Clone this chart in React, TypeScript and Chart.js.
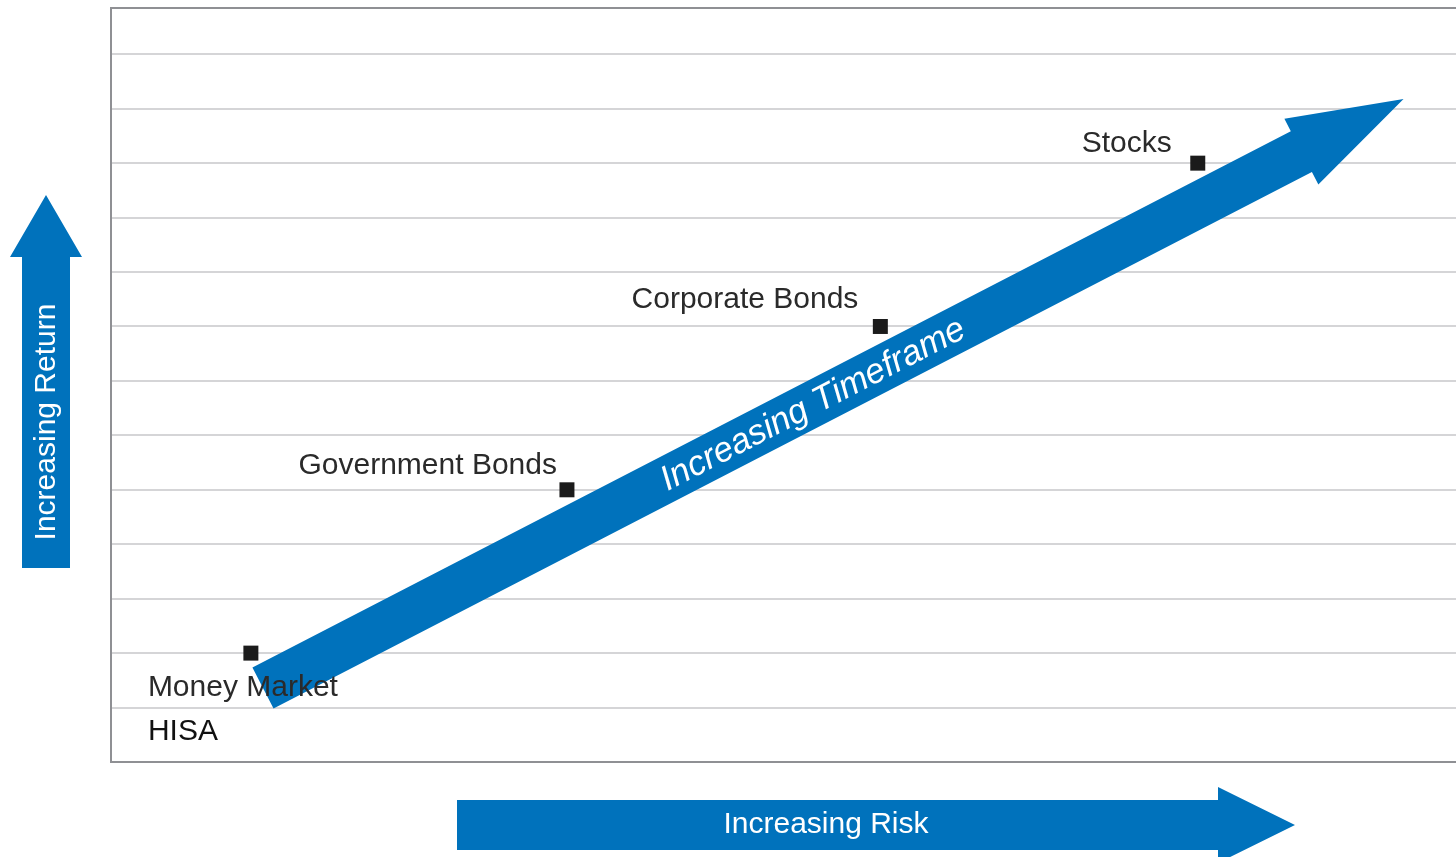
import React, { useEffect, useRef } from "react";
import { Chart, registerables } from "chart.js";

Chart.register(...registerables);

// ---- data ----
const categories = ["Money Market", "Government Bonds", "Corporate Bonds", "Stocks"];
const riskValues = [1.04, 3.39, 5.72, 8.08];
const returnValues = [2, 5, 8, 11];
const extraNote = "HISA";
const yAxisTitle = "Increasing Return";
const xAxisTitle = "Increasing Risk";
const trendTitle = "Increasing Timeframe";
const xRange = [0, 10];
const yRange = [0, 13.85];
const trendStart = [1.13, 1.36];
const trendEnd = [9.61, 12.18];

// ---- styling ----
const BLUE = "rgb(0,114,188)";
const FONT = "'Liberation Sans', Arial, sans-serif";
const labelOffsets: [number, number, CanvasTextAlign][] = [
  [-103, 43, "left"],
  [-10, -16, "right"],
  [-22, -18, "right"],
  [-26, -11, "right"],
];
const noteOffset: [number, number] = [-103, 87];

const overlayPlugin = {
  id: "overlay",
  beforeDatasetsDraw(chart: any) {
    const { ctx, chartArea: a, scales } = chart;
    const x = scales.x, y = scales.y;
    ctx.save();
    // frame
    ctx.strokeStyle = "#8f9094";
    ctx.lineWidth = 2;
    ctx.beginPath();
    ctx.moveTo(a.right + 20, a.top);
    ctx.lineTo(a.left, a.top);
    ctx.lineTo(a.left, a.bottom);
    ctx.lineTo(a.right + 20, a.bottom);
    ctx.stroke();

    // diagonal trend arrow
    const sx = x.getPixelForValue(trendStart[0]);
    const sy = y.getPixelForValue(trendStart[1]);
    const ex = x.getPixelForValue(trendEnd[0]);
    const ey = y.getPixelForValue(trendEnd[1]);
    const len = Math.hypot(ex - sx, ey - sy);
    ctx.translate(sx, sy);
    ctx.rotate(Math.atan2(ey - sy, ex - sx));
    const hw = 23, headW = 37, headL = 115;
    ctx.beginPath();
    ctx.moveTo(0, -hw);
    ctx.lineTo(len - headL, -hw);
    ctx.lineTo(len - headL, -headW);
    ctx.lineTo(len, 0);
    ctx.lineTo(len - headL, headW);
    ctx.lineTo(len - headL, hw);
    ctx.lineTo(0, hw);
    ctx.closePath();
    ctx.fillStyle = BLUE;
    ctx.fill();
    ctx.fillStyle = "#ffffff";
    ctx.font = "italic 35px " + FONT;
    ctx.textAlign = "center";
    ctx.textBaseline = "middle";
    ctx.fillText(trendTitle, len * 0.482, 1);
    ctx.restore();
  },
  afterDatasetsDraw(chart: any) {
    const { ctx, scales } = chart;
    const x = scales.x, y = scales.y;
    ctx.save();
    ctx.textBaseline = "alphabetic";
    ctx.font = "30px " + FONT;
    ctx.fillStyle = "#2a2a2a";
    categories.forEach((c, i) => {
      const px = x.getPixelForValue(riskValues[i]);
      const py = y.getPixelForValue(returnValues[i]);
      const [dx, dy, al] = labelOffsets[i];
      ctx.textAlign = al;
      ctx.fillText(c, px + dx, py + dy);
    });
    const mx = x.getPixelForValue(riskValues[0]);
    const my = y.getPixelForValue(returnValues[0]);
    ctx.fillStyle = "#111111";
    ctx.textAlign = "left";
    ctx.fillText(extraNote, mx + noteOffset[0], my + noteOffset[1]);
    ctx.restore();
  },
  afterDraw(chart: any) {
    const { ctx, chartArea: a } = chart;
    ctx.save();
    ctx.fillStyle = BLUE;
    // vertical axis arrow
    const vx = a.left - 65;
    ctx.beginPath();
    ctx.moveTo(vx - 24, a.top + 560);
    ctx.lineTo(vx - 24, a.top + 249);
    ctx.lineTo(vx - 36, a.top + 249);
    ctx.lineTo(vx, a.top + 187);
    ctx.lineTo(vx + 36, a.top + 249);
    ctx.lineTo(vx + 24, a.top + 249);
    ctx.lineTo(vx + 24, a.top + 560);
    ctx.closePath();
    ctx.fill();
    // horizontal axis arrow
    const hy = a.bottom + 63;
    ctx.beginPath();
    ctx.moveTo(a.left + 346, hy - 25);
    ctx.lineTo(a.left + 1107, hy - 25);
    ctx.lineTo(a.left + 1107, hy - 38);
    ctx.lineTo(a.left + 1184, hy);
    ctx.lineTo(a.left + 1107, hy + 38);
    ctx.lineTo(a.left + 1107, hy + 25);
    ctx.lineTo(a.left + 346, hy + 25);
    ctx.closePath();
    ctx.fill();
    // texts
    ctx.fillStyle = "#ffffff";
    ctx.font = "30px " + FONT;
    ctx.textAlign = "center";
    ctx.textBaseline = "middle";
    ctx.fillText(xAxisTitle, a.left + 715, hy);
    ctx.translate(vx, a.top + 414);
    ctx.rotate(-Math.PI / 2);
    ctx.fillText(yAxisTitle, 0, 1);
    ctx.restore();
  },
};

export default function App() {
  const ref = useRef<HTMLCanvasElement>(null);
  useEffect(() => {
    if (!ref.current) return;
    const chart = new Chart(ref.current, {
      type: "scatter",
      data: {
        labels: categories,
        datasets: [
          {
            label: "Investments",
            data: riskValues.map((r, i) => ({ x: r, y: returnValues[i] })),
            pointStyle: "rect",
            pointRadius: 10.6,
            pointHoverRadius: 10.6,
            pointBorderWidth: 0,
            backgroundColor: "#1b1b1b",
            borderColor: "#1b1b1b",
          },
        ],
      },
      options: {
        responsive: false,
        animation: false,
        events: [],
        layout: { autoPadding: false, padding: { left: 111, top: 8, right: 0, bottom: 95 } },
        plugins: { legend: { display: false }, tooltip: { enabled: false } },
        scales: {
          x: {
            type: "linear",
            min: xRange[0],
            max: xRange[1],
            ticks: { display: false },
            grid: { display: false, drawTicks: false },
            border: { display: false },
          },
          y: {
            type: "linear",
            min: yRange[0],
            max: yRange[1],
            ticks: { display: false, stepSize: 1 },
            grid: { color: "#d5d5d7", lineWidth: 2, drawTicks: false },
            border: { display: false },
          },
        },
      },
      plugins: [overlayPlugin],
    });
    return () => chart.destroy();
  }, []);
  return (
    <div style={{ position: "absolute", left: 0, top: 0, width: 1456, height: 857, background: "#fff" }}>
      <canvas ref={ref} width={1456} height={857} style={{ display: "block" }} />
    </div>
  );
}
